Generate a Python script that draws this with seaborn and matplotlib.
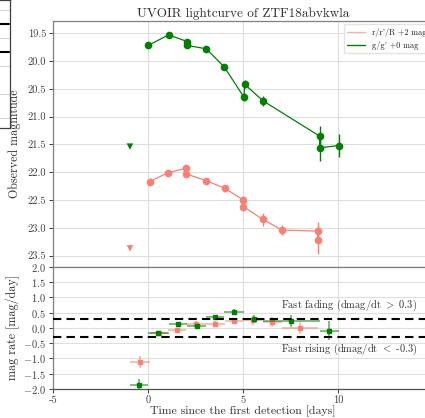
import matplotlib
matplotlib.use("Agg")
import matplotlib.pyplot as plt
import seaborn as sns
import numpy as np
import pandas as pd

# ---------------- data ----------------
# g band (+0 mag)
g_t = [0.00, 1.09, 2.07, 2.07, 3.07, 4.02, 5.05, 5.09, 6.07, 9.03, 9.03, 10.07]
g_mag = [19.72, 19.53, 19.65, 19.72, 19.78, 20.11, 20.65, 20.42, 20.72, 21.35, 21.56, 21.52]
g_err = [0.03, 0.03, 0.03, 0.03, 0.03, 0.05, 0.07, 0.07, 0.09, 0.19, 0.23, 0.21]
g_lim_t = [-0.95]
g_lim_mag = [21.54]

# r band (+2 mag)
r_t = [0.09, 1.04, 2.00, 2.00, 3.05, 4.05, 5.02, 5.02, 6.05, 7.05, 8.93, 8.93]
r_mag = [22.17, 22.01, 21.93, 22.03, 22.15, 22.29, 22.50, 22.62, 22.85, 23.04, 23.06, 23.22]
r_err = [0.06, 0.05, 0.05, 0.05, 0.04, 0.06, 0.07, 0.08, 0.11, 0.09, 0.17, 0.25]
r_lim_t = [-0.95]
r_lim_mag = [23.37]

# magnitude rates
g_rate_t = [-0.46, 0.54, 1.58, 2.57, 3.54, 4.54, 5.57, 7.55, 9.55]
g_rate_dt = [0.47, 0.55, 0.49, 0.50, 0.48, 0.52, 0.50, 1.48, 0.52]
g_rate = [-1.86, -0.16, 0.14, 0.05, 0.36, 0.52, 0.30, 0.22, -0.09]
g_rate_err = [0.20, 0.06, 0.05, 0.05, 0.06, 0.09, 0.12, 0.20, 0.32]

r_rate_t = [-0.43, 0.56, 1.52, 2.52, 3.55, 4.53, 5.53, 6.55, 7.99]
r_rate_dt = [0.52, 0.48, 0.48, 0.52, 0.50, 0.49, 0.51, 0.50, 0.94]
r_rate = [-1.12, -0.17, -0.07, 0.13, 0.14, 0.23, 0.25, 0.19, 0.00]
r_rate_err = [0.20, 0.05, 0.06, 0.08, 0.10, 0.10, 0.15, 0.16, 0.20]

thresholds = [0.3, -0.3]
x_ticks = [-5, 0, 5, 10]
top_yticks = [19.5, 20.0, 20.5, 21.0, 21.5, 22.0, 22.5, 23.0, 23.5]
bot_yticks = [-2.0, -1.5, -1.0, -0.5, 0.0, 0.5, 1.0, 1.5, 2.0]

RED = "#fa8072"
GREEN = "#008000"

# ---------------- style ----------------
sns.set_theme(style="whitegrid")
plt.rcParams["font.family"] = ["cmr10", "DejaVu Serif"]
plt.rcParams["mathtext.fontset"] = "cm"
plt.rcParams["axes.formatter.use_mathtext"] = True
plt.rcParams["axes.unicode_minus"] = True

W, H = 425, 418
fig = plt.figure(figsize=(W / 100, H / 100), dpi=100)

L = 53 / W
Wd = (433 - 53) / W
ax1 = fig.add_axes([L, (H - 266.7) / H, Wd, (266.7 - 21) / H])
ax2 = fig.add_axes([L, (H - 389) / H, Wd, (389 - 266.7) / H])

for ax in (ax1, ax2):
    ax.grid(True, color="#dedede", lw=0.8)
    for s in ax.spines.values():
        s.set_color("#808080")
        s.set_linewidth(0.9)
    ax.tick_params(axis="both", direction="out", length=3, width=0.7,
                   colors="#404040", labelsize=7.5, pad=2, left=True, bottom=True)
    ax.set_xlim(-5, 15)
    ax.set_xticks(x_ticks)

# top panel
df_r = pd.DataFrame({"t": r_t, "mag": r_mag})
df_g = pd.DataFrame({"t": g_t, "mag": g_mag})
sns.lineplot(data=df_r, x="t", y="mag", sort=False, ax=ax1, color=RED, lw=0.9,
             label="r/r'/R +2 mag", estimator=None)
sns.lineplot(data=df_g, x="t", y="mag", sort=False, ax=ax1, color=GREEN, lw=0.9,
             label="g/g' +0 mag", estimator=None)
ax1.errorbar(r_t, r_mag, yerr=r_err, fmt="o", color=RED, ms=4.5, elinewidth=1, zorder=3)
ax1.errorbar(g_t, g_mag, yerr=g_err, fmt="o", color=GREEN, ms=4.5, elinewidth=1, zorder=4)
sns.scatterplot(x=r_lim_t, y=r_lim_mag, marker="v", color=RED, s=22, ax=ax1, edgecolor="none")
sns.scatterplot(x=g_lim_t, y=g_lim_mag, marker="v", color=GREEN, s=22, ax=ax1, edgecolor="none")
ax1.set_ylim(23.70, 19.28)
ax1.set_yticks(top_yticks)
ax1.set_yticklabels([f"{v:.1f}" for v in top_yticks])
ax1.set_xticklabels([])
ax1.set_xlabel("")
ax1.set_ylabel("Observed magnitude", fontsize=8.7, color="#303030", labelpad=5)
ax1.set_title("UVOIR lightcurve of ZTF18abvkwla", fontsize=9.5, color="#303030", pad=3)
leg = ax1.legend(loc="upper right", fontsize=6, frameon=True, borderaxespad=0.4,
                 handlelength=2.2, labelspacing=0.5)
for lh in leg.get_lines():
    lh.set_linewidth(1)
leg.get_lines()[0].set_alpha(0.6)
leg.get_frame().set_edgecolor("#dddddd")

# bottom panel
ax2.errorbar(r_rate_t, r_rate, xerr=r_rate_dt, yerr=r_rate_err, fmt="s", color=RED,
             ms=3, ecolor=RED, elinewidth=1.3, alpha=1, zorder=3)
ax2.errorbar(g_rate_t, g_rate, xerr=g_rate_dt, yerr=g_rate_err, fmt="s", color=GREEN,
             ms=3, ecolor=GREEN, elinewidth=1.3, zorder=4)
for line in ax2.collections:
    line.set_alpha(0.55)
for th in thresholds:
    ax2.axhline(th, color="black", ls="--", lw=1.5, dashes=(4, 2.5), zorder=5)
ax2.text(7.0, 0.73, r"Fast fading (dmag/dt ${>}$ 0.3)", fontsize=7.5, color="#303030",
         va="center", ha="left")
ax2.text(7.0, -0.70, r"Fast rising (dmag/dt ${<}$ -0.3)", fontsize=7.5, color="#303030",
         va="center", ha="left")
ax2.set_ylim(-2, 2)
ax2.set_yticks(bot_yticks)
ax2.set_xticklabels([str(v) for v in x_ticks])
ax2.set_ylabel("mag rate [mag/day]", fontsize=8.7, color="#303030", labelpad=2)
ax2.set_xlabel("Time since the first detection [days]", fontsize=8.5, color="#303030", labelpad=0)
ax2.spines["bottom"].set_color("#505050")

# partial neighbouring panel at top-left edge
axp = fig.add_axes([-0.01, (H - 128) / H, 9.5 / W + 0.01, 128 / H])
axp.set_xlim(0, 1)
axp.set_ylim(128, 0)
axp.set_xticks([])
axp.set_yticks([])
axp.grid(False)
for yy in [10, 38, 66, 94, 118]:
    axp.axhline(yy, color="#d8d8d8", lw=0.8)
for yy in [24, 52]:
    axp.plot([0.2, 0.95], [yy, yy], color="black", lw=1.5)
for s in axp.spines.values():
    s.set_color("#404040")
    s.set_linewidth(0.9)

fig.savefig("out.png", dpi=100)
